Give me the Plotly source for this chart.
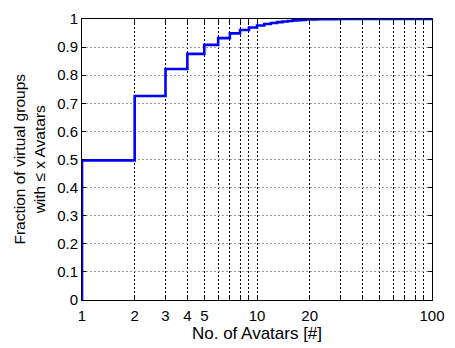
import plotly.graph_objects as go

avatars = [1, 1, 2, 3, 4, 5, 6, 7, 8, 9, 10, 11, 12, 13, 14, 15, 16, 17, 18, 19, 20, 22, 25, 30, 100]
fraction = [0.0, 0.497, 0.726, 0.822, 0.876, 0.908, 0.932, 0.949, 0.961, 0.970, 0.977,
            0.982, 0.986, 0.989, 0.991, 0.993, 0.995, 0.996, 0.997, 0.998, 0.9985,
            0.999, 0.9995, 1.0, 1.0]

x_tickvals = [1, 2, 3, 4, 5, 6, 7, 8, 9, 10, 20, 30, 40, 50, 60, 70, 80, 90, 100]
x_ticktext = ["1", "2", "3", "4", "5", "", "", "", "", "10", "20", "", "", "", "", "", "", "", "100"]
y_tickvals = [0, 0.1, 0.2, 0.3, 0.4, 0.5, 0.6, 0.7, 0.8, 0.9, 1]
y_ticktext = ["0", "0.1", "0.2", "0.3", "0.4", "0.5", "0.6", "0.7", "0.8", "0.9", "1"]

tick_font = dict(family="Liberation Sans, Arial, sans-serif", size=15, color="black")
xtitle_font = dict(family="Liberation Sans, Arial, sans-serif", size=17, color="black")
ytitle_font = dict(family="Liberation Sans, Arial, sans-serif", size=15.5, color="black")

fig = go.Figure()
fig.add_trace(go.Scatter(
    x=avatars, y=fraction, mode="lines",
    line=dict(color="#0000ff", width=2.6, shape="hv"),
    showlegend=False, cliponaxis=False,
))

fig.update_layout(
    width=455, height=348,
    margin=dict(l=82, r=16, t=10, b=48),
    paper_bgcolor="white", plot_bgcolor="white",
    font=tick_font,
    xaxis=dict(
        type="log", range=[0, 2],
        tickmode="array", tickvals=x_tickvals, ticktext=x_ticktext,
        showgrid=True, gridcolor="black", gridwidth=1, griddash="2px,2px",
        showline=True, linecolor="black", linewidth=1, mirror="ticks",
        ticks="inside", ticklen=4, tickcolor="black",
        zeroline=False, tickfont=tick_font, ticklabelstandoff=2,
        title=dict(text="No. of Avatars [#]", font=xtitle_font, standoff=0),
    ),
    yaxis=dict(
        range=[0, 1],
        tickmode="array", tickvals=y_tickvals, ticktext=y_ticktext,
        showgrid=True, gridcolor="#9a9a9a", gridwidth=1, griddash="2px,2px",
        showline=True, linecolor="black", linewidth=1, mirror="ticks",
        ticks="inside", ticklen=4, tickcolor="black",
        zeroline=False, tickfont=tick_font,
    ),
    annotations=[dict(
        text="Fraction of virtual groups<br>with ≤ x Avatars",
        xref="paper", yref="paper",
        x=(28 - 82) / 357, y=0.5,
        xanchor="center", yanchor="middle",
        textangle=-90, showarrow=False, font=ytitle_font,
    )],
)

fig.write_html("out.html")
